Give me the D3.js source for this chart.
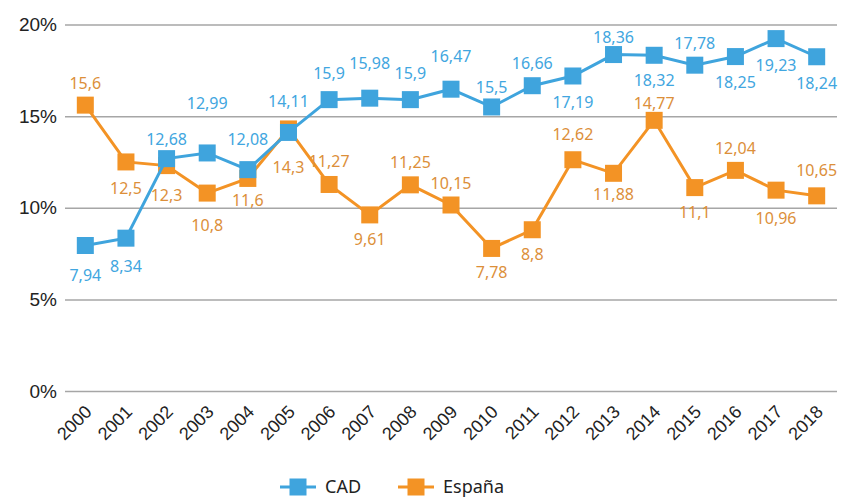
<!DOCTYPE html>
<html>
<head>
<meta charset="utf-8">
<script src="https://cdn.jsdelivr.net/npm/d3@7"></script>
<style>
  body { margin: 0; background: #fff; }
  svg { display: block; font-family: "Noto Sans", "Liberation Sans", sans-serif; }
</style>
</head>
<body>
<div id="wrapper"></div>
<script>
// years on the x axis
const years = ["2000","2001","2002","2003","2004","2005","2006","2007","2008","2009",
               "2010","2011","2012","2013","2014","2015","2016","2017","2018"];

const cadValues = [7.94, 8.34, 12.68, 12.99, 12.08, 14.11, 15.9, 15.98, 15.9, 16.47,
                   15.5, 16.66, 17.19, 18.36, 18.32, 17.78, 18.25, 19.23, 18.24];
const espValues = [15.6, 12.5, 12.3, 10.8, 11.6, 14.3, 11.27, 9.61, 11.25, 10.15,
                   7.78, 8.8, 12.62, 11.88, 14.77, 11.1, 12.04, 10.96, 10.65];

const yTicks = [0, 5, 10, 15, 20];

// vertical offset of each value label from its marker (px)
const cadLabelDy = [30, 28, -19, -50, -30, -31, -26, -35, -26, -33,
                    -20, -22, 26, -17, 25, -22, 26, 26.5, 26];
const espLabelDy = [-22, 26, 30, 32, 22, 38, -23, 24, -23, -22,
                    24, 24, -25, 21, -17, 25, -22, 28, -26];

function buildPlot() {
    const dimension = {
        width: 841,
        height: 498,
        margin: { top: 24.5, left: 65, bottom: 107, right: 4 }
    };
    dimension.boundedWidth = dimension.width - dimension.margin.left - dimension.margin.right;
    dimension.boundedHeight = dimension.height - dimension.margin.top - dimension.margin.bottom;

    const svg = d3.select("#wrapper").append("svg")
        .attr("width", dimension.width)
        .attr("height", dimension.height);

    const xScaler = d3.scalePoint()
        .domain(years)
        .range([dimension.margin.left, dimension.margin.left + dimension.boundedWidth])
        .padding(0.5);
    const yScaler = d3.scaleLinear()
        .domain([0, 20])
        .range([dimension.margin.top + dimension.boundedHeight, dimension.margin.top]);

    const blue = "#3fa4dd", orange = "#f39325";
    const blueText = "#41a6e0", orangeText = "#dc8f3a";

    // gridlines + y labels
    const yAxis = d3.axisLeft(yScaler)
        .tickValues(yTicks)
        .tickSize(-dimension.boundedWidth)
        .tickFormat(d => d + "%");
    const gy = svg.append("g")
        .attr("transform", `translate(${dimension.margin.left},0)`)
        .call(yAxis);
    gy.select(".domain").remove();
    gy.selectAll(".tick line").attr("stroke", "#a6a6a6").attr("stroke-width", 1.5);
    gy.selectAll(".tick text")
        .attr("x", -8)
        .attr("fill", "#222")
        .style("font-size", "19px")
        .style("font-family", "inherit");

    // x labels
    const xAxis = d3.axisBottom(xScaler).tickSize(0);
    const gx = svg.append("g")
        .attr("transform", `translate(0,${dimension.margin.top + dimension.boundedHeight})`)
        .call(xAxis);
    gx.select(".domain").remove();
    gx.selectAll(".tick text")
        .attr("fill", "#222")
        .style("font-size", "18px")
        .style("font-family", "inherit")
        .attr("text-anchor", "end")
        .attr("dy", null)
        .attr("y", 0)
        .attr("transform", "translate(7,22) rotate(-45)");

    const line = d3.line()
        .x((d, i) => xScaler(years[i]))
        .y(d => yScaler(d));

    const series = [
        { name: "España", values: espValues, dy: espLabelDy, color: orange, text: orangeText },
        { name: "CAD", values: cadValues, dy: cadLabelDy, color: blue, text: blueText }
    ];

    const ms = 17;
    series.forEach(s => {
        svg.append("path")
            .datum(s.values)
            .attr("fill", "none")
            .attr("stroke", s.color)
            .attr("stroke-width", 3)
            .attr("d", line);
        svg.append("g").selectAll("rect")
            .data(s.values)
            .join("rect")
            .attr("x", (d, i) => xScaler(years[i]) - ms / 2)
            .attr("y", d => yScaler(d) - ms / 2)
            .attr("width", ms)
            .attr("height", ms)
            .attr("fill", s.color);
    });

    series.forEach(s => {
        svg.append("g").selectAll("text")
            .data(s.values)
            .join("text")
            .attr("x", (d, i) => xScaler(years[i]))
            .attr("y", (d, i) => yScaler(d) + s.dy[i])
            .attr("dy", "0.36em")
            .attr("text-anchor", "middle")
            .attr("fill", s.text)
            .style("font-size", "16px")
            .text(d => String(d).replace(".", ","));
    });

    // legend
    const legend = [
        { name: "CAD", color: blue, x: 280 },
        { name: "España", color: orange, x: 398 }
    ];
    const ly = 487;
    const lg = svg.append("g");
    legend.forEach(l => {
        lg.append("line")
            .attr("x1", l.x).attr("x2", l.x + 36)
            .attr("y1", ly).attr("y2", ly)
            .attr("stroke", l.color).attr("stroke-width", 3);
        lg.append("rect")
            .attr("x", l.x + 18 - ms / 2).attr("y", ly - ms / 2)
            .attr("width", ms).attr("height", ms)
            .attr("fill", l.color);
        lg.append("text")
            .attr("x", l.x + 45).attr("y", ly)
            .attr("dy", "0.36em")
            .attr("fill", "#222")
            .style("font-size", "18px")
            .text(l.name);
    });
}

buildPlot();
</script>
</body>
</html>
